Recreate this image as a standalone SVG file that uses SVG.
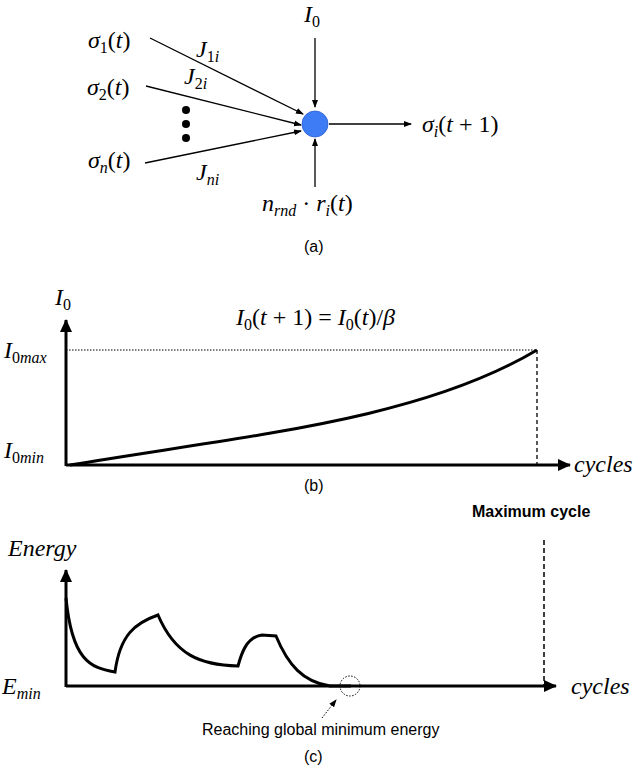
<svg xmlns="http://www.w3.org/2000/svg" width="640" height="770" viewBox="0 0 640 770">
<style>
.m{font-family:"Liberation Serif",serif;font-style:italic;font-size:24px;fill:#000}
.s{font-size:16px}
.c{font-family:"Liberation Sans",Arial,sans-serif;font-size:16px;fill:#000}
.ln{stroke:#000;stroke-width:1.3;fill:none}
.ax{stroke:#000;stroke-width:3;fill:none}
</style>
<defs>
<marker id="a" markerWidth="8" markerHeight="8" refX="7" refY="4" orient="auto" markerUnits="userSpaceOnUse"><path d="M0,1 L8,4 L0,7z" fill="#000"/></marker>
<marker id="b" markerWidth="14" markerHeight="14" refX="12" refY="7" orient="auto" markerUnits="userSpaceOnUse"><path d="M0,1 L13,7 L0,13z" fill="#000"/></marker>
</defs>
<g id="connectors">
<line class="ln" x1="150" y1="38" x2="303" y2="114" marker-end="url(#a)"/>
<line class="ln" x1="146" y1="86" x2="301" y2="125" marker-end="url(#a)"/>
<line class="ln" x1="145" y1="163" x2="301" y2="131" marker-end="url(#a)"/>
<line class="ln" x1="315" y1="38" x2="315" y2="107" marker-end="url(#a)"/>
<line class="ln" x1="315" y1="187" x2="315" y2="139" marker-end="url(#a)"/>
<line class="ln" x1="329" y1="124" x2="411" y2="124" marker-end="url(#a)"/>
</g>
<g id="neuron"><circle cx="315" cy="124" r="13" fill="#3d7cf5" stroke="#2a5bd0" stroke-width="0.8"/></g>
<g id="dots"><circle cx="186" cy="110" r="4"/><circle cx="186" cy="124" r="4"/><circle cx="186" cy="138" r="4"/></g>
<g id="labels-a">
<text class="m" x="88" y="48">σ<tspan class="s" dy="5" font-style="normal">1</tspan><tspan dy="-5" font-style="normal">(</tspan>t<tspan font-style="normal">)</tspan></text>
<text class="m" x="87" y="95">σ<tspan class="s" dy="5" font-style="normal">2</tspan><tspan dy="-5" font-style="normal">(</tspan>t<tspan font-style="normal">)</tspan></text>
<text class="m" x="88" y="168">σ<tspan class="s" dy="5">n</tspan><tspan dy="-5" font-style="normal">(</tspan>t<tspan font-style="normal">)</tspan></text>
<text class="m" x="196" y="57">J<tspan class="s" dy="5" font-style="normal">1</tspan><tspan class="s">i</tspan></text>
<text class="m" x="184" y="84">J<tspan class="s" dy="5" font-style="normal">2</tspan><tspan class="s">i</tspan></text>
<text class="m" x="196" y="180">J<tspan class="s" dy="5">ni</tspan></text>
<text class="m" x="304" y="22">I<tspan class="s" dy="5" font-style="normal">0</tspan></text>
<text class="m" x="422" y="132">σ<tspan class="s" dy="5">i</tspan><tspan dy="-5" font-style="normal">(</tspan>t<tspan font-style="normal"> + 1)</tspan></text>
<text class="m" x="262" y="211">n<tspan class="s" dy="5">rnd</tspan><tspan dy="-5" font-style="normal"> · </tspan>r<tspan class="s" dy="5">i</tspan><tspan dy="-5" font-style="normal">(</tspan>t<tspan font-style="normal">)</tspan></text>
<text class="c" x="304" y="252">(a)</text>
</g>
<g id="panel-b">
<line class="ax" x1="66" y1="466" x2="66" y2="320" marker-end="url(#b)"/>
<line class="ax" x1="66" y1="465" x2="570" y2="465" marker-end="url(#b)"/>
<line x1="66" y1="350" x2="537" y2="350" stroke="#000" stroke-width="1" stroke-dasharray="1.5,1.5"/>
<line x1="537" y1="350" x2="537" y2="465" stroke="#000" stroke-width="1.3" stroke-dasharray="4,3"/>
<path d="M70,465 C250,435 420,420 537,350" stroke="#000" stroke-width="3" fill="none"/>
<text class="m" x="55" y="305">I<tspan class="s" dy="5" font-style="normal">0</tspan></text>
<text class="m" x="236" y="325">I<tspan class="s" dy="5" font-style="normal">0</tspan><tspan dy="-5" font-style="normal">(</tspan>t<tspan font-style="normal"> + 1) = </tspan>I<tspan class="s" dy="5" font-style="normal">0</tspan><tspan dy="-5" font-style="normal">(</tspan>t<tspan font-style="normal">)/</tspan>β</text>
<text class="m" x="4" y="358">I<tspan class="s" dy="5" font-style="normal">0</tspan><tspan class="s">max</tspan></text>
<text class="m" x="4" y="458">I<tspan class="s" dy="5" font-style="normal">0</tspan><tspan class="s">min</tspan></text>
<text class="m" x="574" y="472">cycles</text>
<text class="c" x="304" y="491">(b)</text>
<text class="c" x="472" y="517" font-size="14" font-weight="bold">Maximum cycle</text>
</g>
<g id="panel-c">
<line class="ax" x1="66" y1="687" x2="66" y2="570" marker-end="url(#b)"/>
<line class="ax" x1="66" y1="686" x2="556" y2="686" marker-end="url(#b)"/>
<line x1="544" y1="540" x2="544" y2="686" stroke="#000" stroke-width="1.5" stroke-dasharray="5,3"/>
<path d="M66,598 C72,660 90,668 115,672 C120,635 135,623 158,615 C175,655 200,665 238,666 C241,655 246,637 262,635 L276,636 C288,665 303,682 330,686 L351,686" stroke="#000" stroke-width="3" fill="none"/>
<circle cx="350" cy="686" r="10" fill="none" stroke="#000" stroke-width="1" stroke-dasharray="1.5,1.5"/>
<line x1="322" y1="718" x2="336" y2="700" stroke="#000" stroke-width="1" stroke-dasharray="1.5,1.5" marker-end="url(#a)"/>
<text class="m" x="8" y="556">Energy</text>
<text class="m" x="2" y="694">E<tspan class="s" dy="5">min</tspan></text>
<text class="m" x="571" y="694">cycles</text>
<text class="c" x="202" y="735">Reaching global minimum energy</text>
<text class="c" x="304" y="762">(c)</text>
</g>
</svg>
